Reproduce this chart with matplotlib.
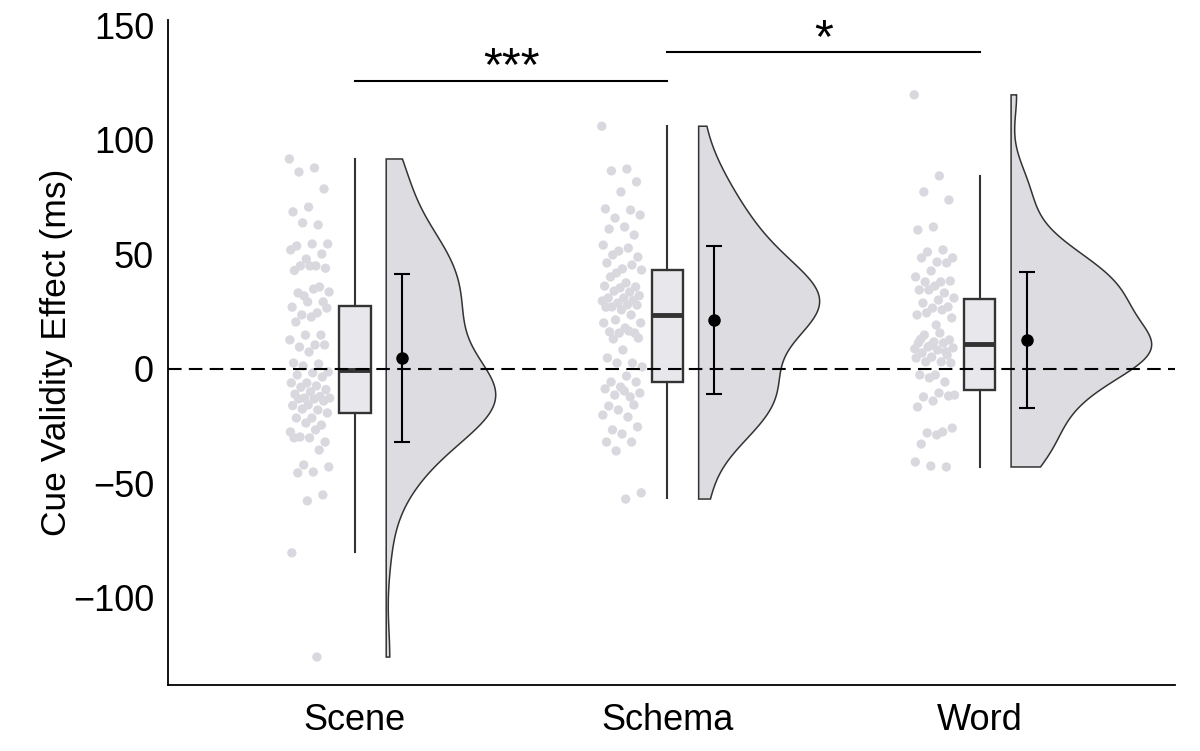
import numpy as np
import matplotlib
matplotlib.use("Agg")
import matplotlib.pyplot as plt
from matplotlib.patches import Polygon

plt.rcParams['font.family'] = ['Liberation Sans', 'DejaVu Sans']

# data
groups = ["Scene", "Schema", "Word"]

scene = [91.7, 87.8, 86, 78.6, 70.7, 68.6, 62.9, 63.8, 54.6, 54.6, 53.7, 50.2, 48, 52, 45, 45, 44, 45, 43,
         35.8, 31.9, 33.6, 34.9, 33.2, 29.3, 29.3, 27, 24.5, 23.6, 26.6, 22.7, 20.5, 14.8, 14.8, 12.7,
         10.5, 9.6, 10.5, 7.4, 2.6, 2.2, 1.3, -1.3, -1.7, -2.6, -3.5, -6.1, -6.1, -7.4, -8, -9, -10,
         -11, -12, -12.7, -12.7, -13.1, -13.1, -14, -15.7, -16, -17.9, -17.5, -19.2, -21.4, -21.4, -24.5,
         -23.6, -27.5, -26.6, -29.7, -31.9, -30.1, -30.1, -35.4, -41.9, -42.8, -45, -45.4, -55, -57.6,
         -80.3, -125.8]
schema = [106, 87.3, 86.5, 81.7, 77.3, 69.9, 69.4, 65.9, 67.2, 62, 61.1, 58.5, 51.5, 54.1, 52.8, 49.8,
          48.9, 43.7, 46.3, 45.4, 41.9, 43.2, 37.6, 40.2, 35.8, 35.4, 36.2, 33.6, 34, 32, 31, 31, 30,
          28.8, 29.7, 28, 27.1, 27.9, 25.8, 27, 23.6, 21.4, 20.1, 17.9, 16.2, 15.7, 15.7, 20.1, 16.6,
          13.1, 13.5, 8.3, 4.8, 2.6, 2.6, 0.9, -3.1, -5.7, -5.7, -7.9, -8.7, -12.2, -11.4, -10.5, -9.6,
          -16.2, -15.7, -17.9, -20.1, -21, -26.6, -25.3, -28.4, -31.9, -31.9, -35.8, -54.1, -56.8]
word = [119.7, 84.3, 77.3, 73.8, 62, 60.7, 52, 51.1, 48.5, 46.7, 48.5, 46.3, 42.8, 40.2, 38, 38, 38.4,
        36.2, 34.5, 33.2, 34.5, 31, 30.1, 28.8, 27.1, 26.6, 23.6, 25.8, 24.5, 22.3, 19.2, 13, 7.5,
        10.2, 8.8, 15.7, 14.8, 12.7, 11.8, 11.4, 11.4, 9.6, 9.2, 8.3, 7, 6.1, 5.2, 4.8, 3.1, 3.1, 2.6,
        -2.6, -2.6, -5.7, -3.9, -11.4, -10.5, -12.2, -11.8, -14, -16.6, -27.5, -27.9, -25.8, -28.8,
        -32.8, -42.8, -42.4, -40.6]

# box stats (as drawn)
med = [-0.4, 23.6, 10.9]
q1 = [-19.2, -5.7, -9.2]
q3 = [27.5, 43.2, 30.6]
whis_lo = [-80, -56.3, -42.8]
whis_hi = [91.7, 106, 84.3]

# mean +- sd
means = [4.8, 21.4, 12.7]
sds = [36.7, 32.3, 29.7]

# significance brackets: from, to, line height, label, label baseline
brackets = [(0, 1, 125.8, "***", 126.0), (1, 2, 138.4, "*", 138.6)]

data = [scene, schema, word]
xs = np.arange(1, 4)

dark = "#333333"
pt_col = "#D8D8DE"
box_col = "#E8E8EC"
vio_col = "#DCDCE1"


def kde(vals, grid):
    v = np.asarray(vals)
    n = len(v)
    iqr = np.subtract(*np.percentile(v, [75, 25]))
    bw = 0.9 * min(v.std(ddof=1), iqr / 1.34) * n ** -0.2
    z = (grid[:, None] - v[None, :]) / bw
    return np.exp(-0.5 * z ** 2).sum(axis=1) / (n * bw * np.sqrt(2 * np.pi))


fig = plt.figure(figsize=(12, 7.51), dpi=100)
ax = fig.add_axes([0.14, 0.0879, 0.839, 0.8855])

# jittered points (deterministic spread)
for i, vals in enumerate(data):
    n = len(vals)
    off = ((np.arange(n) * 0.618034) % 1 - 0.5) * 0.13
    ax.scatter(xs[i] - 0.145 + off, vals, s=45, color=pt_col, edgecolors='none', zorder=1)

# half violins
grids = []
dens = []
for vals in data:
    g = np.linspace(min(vals), max(vals), 400)
    grids.append(g)
    dens.append(kde(vals, g))
dmax = max(d.max() for d in dens)
for i in range(3):
    x0 = xs[i] + 0.1
    w = dens[i] / dmax * 0.45
    px = np.concatenate([[x0], x0 + w, [x0]])
    py = np.concatenate([[grids[i][0]], grids[i], [grids[i][-1]]])
    ax.add_patch(Polygon(np.column_stack([px, py]), closed=True, facecolor=vio_col,
                         edgecolor=dark, lw=1.1, zorder=2))

# boxes
stats = []
for i in range(3):
    stats.append(dict(med=med[i], q1=q1[i], q3=q3[i], whislo=whis_lo[i], whishi=whis_hi[i], fliers=[]))
ax.bxp(stats, positions=xs, widths=0.1, showfliers=False, showcaps=False, patch_artist=True,
       boxprops=dict(facecolor=box_col, edgecolor=dark, lw=1.7),
       whiskerprops=dict(color=dark, lw=1.5),
       medianprops=dict(color=dark, lw=3.5), zorder=3)

ax.axhline(0, color='black', lw=1.5, dashes=(6.5, 3.5), zorder=4)

# mean +- sd
ax.errorbar(xs + 0.15, means, yerr=sds, fmt='o', color='black', ms=8, elinewidth=1.5,
            capsize=5.8, capthick=1.5, zorder=5)

for a, b, y, lab, ty in brackets:
    ax.plot([xs[a], xs[b]], [y, y], color='black', lw=1.5, clip_on=False)
    ax.text((xs[a] + xs[b]) / 2, ty, lab, ha='center', va='baseline', fontsize=35)

ax.set_xlim(0.4016, 3.624)
ax.set_ylim(-138, 152.4)
ax.set_yticks([-100, -50, 0, 50, 100, 150])
ax.set_yticklabels(["\u2212100", "\u221250", "0", "50", "100", "150"])
ax.set_xticks(xs)
ax.set_xticklabels(groups)
ax.tick_params(length=0, labelsize=26)
ax.tick_params(axis='y', pad=10)
ax.tick_params(axis='x', pad=13)
ax.set_ylabel("Cue Validity Effect (ms)", fontsize=25.5, labelpad=0)
for s in ['top', 'right']:
    ax.spines[s].set_visible(False)
for s in ['left', 'bottom']:
    ax.spines[s].set_linewidth(1.3)

fig.savefig("out.png", dpi=100)
